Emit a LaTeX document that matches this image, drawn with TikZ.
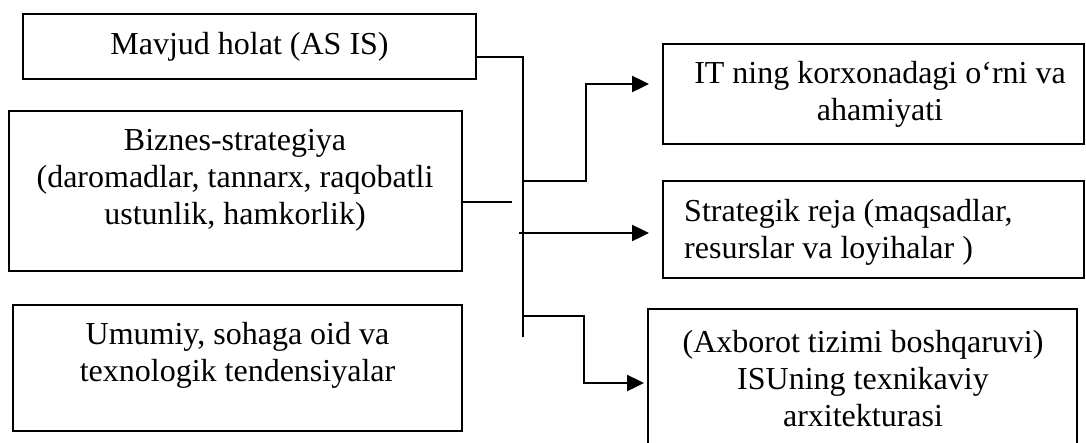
\documentclass[tikz,border=0pt]{standalone}
\usepackage{fontspec}
\setmainfont{Liberation Serif}
\usetikzlibrary{arrows.meta}
\begin{document}
\begin{tikzpicture}[x=1pt,y=-1pt,
  box/.style={draw,line width=1.6pt,inner sep=0pt,outer sep=0pt,anchor=north west},
  txt/.style={inner sep=0pt,align=center,font=\fontsize{32}{37}\selectfont},
  link/.style={line width=1.6pt},
  arr/.style={line width=2.4pt,-{Triangle[length=17pt,width=16pt]}}]
\clip (0,0) rectangle (1086,442);
% left boxes
\node[box,minimum width=453pt,minimum height=65pt] (A) at (23,14) {};
\node[txt] (At) at (249.5,46.5) {Mavjud holat (AS IS)};
\node[box,minimum width=453pt,minimum height=160pt] (B) at (9,111) {};
\node[txt] (Bt) at (235,180) {Biznes-strategiya\\(daromadlar, tannarx, raqobatli\\ustunlik, hamkorlik)};
\node[box,minimum width=449pt,minimum height=126pt] (C) at (13,305) {};
\node[txt] (Ct) at (237.5,355) {Umumiy, sohaga oid va\\texnologik tendensiyalar};
% right boxes
\node[box,minimum width=421pt,minimum height=100pt] (D) at (663,44) {};
\node[txt] (Dt) at (880,94) {IT ning korxonadagi o‘rni va\\ahamiyati};
\node[box,minimum width=421pt,minimum height=97pt] (E) at (663,181) {};
\node[txt,align=left,anchor=west] (Et) at (684,232) {Strategik reja (maqsadlar,\\resurslar va loyihalar )};
\node[box,minimum width=429pt,minimum height=160pt] (F) at (648,309) {};
\node[txt] (Ft) at (863,379) {(Axborot tizimi boshqaruvi)\\ISUning texnikaviy\\arxitekturasi};
% connectors
\coordinate (j1) at (523,57);
\coordinate (j2) at (523,337);
\coordinate (jB) at (512,202);
\coordinate (jD) at (523,181);
\coordinate (kD) at (586,181);
\coordinate (tD) at (649,84);
\coordinate (jE) at (519,233);
\coordinate (jF) at (523,316);
\coordinate (kF) at (584,316);
\coordinate (tF) at (644,383);
\draw[link] (A.east |- j1) -- (j1) -- (j2);
\draw[link] (B.east |- jB) -- (jB);
\draw[arr] (jD) -- (kD) |- (tD);
\draw[arr] (jE) -- ([xshift=-14pt]E.west |- jE);
\draw[arr] (jF) -- (kF) |- (tF);
\end{tikzpicture}
\end{document}
